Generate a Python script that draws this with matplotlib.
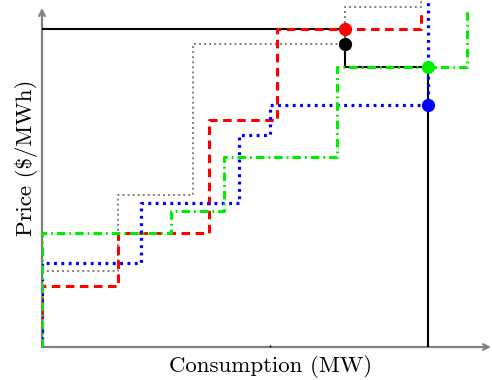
import numpy as np
import matplotlib
matplotlib.use("Agg")
import matplotlib.pyplot as plt

plt.rcParams['font.family'] = ['cmr10', 'DejaVu Serif']
plt.rcParams['axes.unicode_minus'] = False

# demand curve (black) : price blocks and quantity edges
demand_edges = [0, 303, 386]
demand_prices = [318, 280]

# supply offers: quantity edges, price of each block, price where the line stops
red_edges = [0, 76, 167, 235, 379]
red_prices = [61, 114, 227, 318]
red_top = 333

gray_edges = [0, 76, 151, 303, 379]
gray_prices = [76, 152, 303, 340]
gray_top = 360

blue_edges = [0, 99, 197, 228, 386]
blue_prices = [84, 144, 212, 242]
blue_top = 360

green_edges = [0, 129, 182, 295, 425]
green_prices = [114, 136, 190, 280]
green_top = 338

# clearing points
points_q = [303, 303, 386, 386]
points_p = [318, 303, 280, 242]
points_c = ['red', 'black', '#00ee00', 'blue']


def supply_steps(edges, prices, top):
  xs, ys = [edges[0]], [0]
  for i, p in enumerate(prices):
    xs += [edges[i], edges[i + 1]]
    ys += [p, p]
  xs.append(edges[-1])
  ys.append(top)
  return xs, ys


def demand_steps(edges, prices):
  xs, ys = [], []
  for i, p in enumerate(prices):
    xs += [edges[i], edges[i + 1]]
    ys += [p, p]
  xs.append(edges[-1])
  ys.append(0)
  return xs, ys


fig = plt.figure(figsize=(4.92, 3.8), dpi=100)
ax = fig.add_axes([42 / 492, 33 / 380, 449 / 492, 347 / 380])
ax.set_xlim(0, 449)
ax.set_ylim(0, 347)

x, y = demand_steps(demand_edges, demand_prices)
ax.plot(x, y, color='black', lw=1.5, zorder=2)

x, y = supply_steps(gray_edges, gray_prices, gray_top)
ax.plot(x, y, color='gray', lw=1.4, ls=(0, (1, 1.6)), zorder=3)

x, y = supply_steps(red_edges, red_prices, red_top)
ax.plot(x, y, color='red', lw=2.2, ls=(0, (2.8, 1.8)), zorder=3)

x, y = supply_steps(blue_edges, blue_prices, blue_top)
ax.plot(x, y, color='blue', lw=2.3, ls=(0, (0.9, 1.4)), zorder=4)

x, y = supply_steps(green_edges, green_prices, green_top)
ax.plot(x, y, color='#00ee00', lw=2.2, ls=(0, (2.8, 1.3, 0.6, 1.3)), zorder=4)

for q, p, c in zip(points_q, points_p, points_c):
  ax.plot(q, p, 'o', color=c, ms=8.5, zorder=6)

for s in ax.spines.values():
  s.set_visible(False)
ax.set_xticks([228])
ax.set_xticklabels([])
ax.set_yticks([])
ax.tick_params(axis='x', length=1.5, width=1, direction='in')

# axis arrows
ax.annotate('', xy=(449, 0), xytext=(0, 0), annotation_clip=False,
            arrowprops=dict(arrowstyle='->', color='gray', lw=1.6, shrinkA=0, shrinkB=0), zorder=1)
ax.annotate('', xy=(0, 339), xytext=(0, 0), annotation_clip=False,
            arrowprops=dict(arrowstyle='->', color='gray', lw=1.6, shrinkA=0, shrinkB=0), zorder=1)

fig.text(271 / 492, 1 - 366 / 380, 'Consumption (MW)', fontsize=16.5, ha='center', va='center')
fig.text(27 / 492, 1 - 158 / 380, r'Price (\$/MWh)', fontsize=16.5, ha='center', va='center', rotation=90)

plt.savefig('out.png', dpi=100)
